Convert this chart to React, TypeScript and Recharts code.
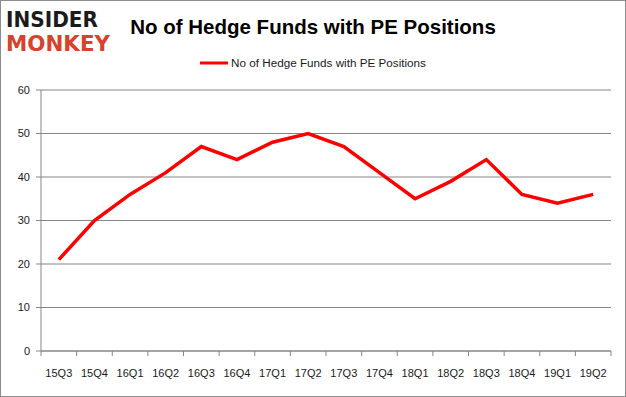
import React from 'react';
import { LineChart, Line, XAxis, YAxis, CartesianGrid } from 'recharts';

const quarters = ['15Q3', '15Q4', '16Q1', '16Q2', '16Q3', '16Q4', '17Q1', '17Q2', '17Q3', '17Q4', '18Q1', '18Q2', '18Q3', '18Q4', '19Q1', '19Q2'];
const hedgeFundCounts = [21, 30, 36, 41, 47, 44, 48, 50, 47, 41, 35, 39, 44, 36, 34, 36];
const yTicks = [0, 10, 20, 30, 40, 50, 60];
const seriesName = 'No of Hedge Funds with PE Positions';
const titleText = 'No of Hedge Funds with PE Positions';

const data = quarters.map((q, i) => ({ quarter: q, value: hedgeFundCounts[i] }));

const W = 626;
const H = 397;
const PLOT_LEFT = 41;
const PLOT_RIGHT = 611;
const PLOT_TOP = 90;
const PLOT_BOTTOM = 351;
const Y_AXIS_W = 30;
const X_AXIS_H = 30;
const BAND = (PLOT_RIGHT - PLOT_LEFT) / quarters.length;
const GRID = '#868686';
const FONT = '"Liberation Sans", Arial, sans-serif';

const XTick = (props: any) => {
  const { x, payload, index } = props;
  const isLast = index === quarters.length - 1;
  return (
    <g>
      <line x1={x - BAND / 2} x2={x - BAND / 2} y1={PLOT_BOTTOM} y2={PLOT_BOTTOM + 5} stroke={GRID} />
      {isLast && (
        <line x1={x + BAND / 2} x2={x + BAND / 2} y1={PLOT_BOTTOM} y2={PLOT_BOTTOM + 5} stroke={GRID} />
      )}
      <text x={x} y={PLOT_BOTTOM + 26} textAnchor="middle" fontSize={11} fontFamily={FONT} fill="#1a1a1a">
        {payload.value}
      </text>
    </g>
  );
};

export default function App() {
  return (
    <div style={{ position: 'absolute', left: 0, top: 0, width: W, height: H, background: '#fff', overflow: 'hidden' }}>
      <div style={{ position: 'absolute', left: 0, top: 0, width: W, height: H, boxSizing: 'border-box', border: '1px solid #8c8c8c', pointerEvents: 'none', zIndex: 3 }} />
      <svg width={120} height={70} style={{ position: 'absolute', left: 0, top: 0, zIndex: 2 }}>
        <text x={6} y={27} fontFamily='"DejaVu Sans", sans-serif' fontWeight={900} fontSize={20.5} fill="#1b1b1b" textLength={92} lengthAdjust="spacingAndGlyphs">INSIDER</text>
        <text x={6} y={51} fontFamily='"DejaVu Sans", sans-serif' fontWeight={900} fontSize={20.5} fill="#d8412c" textLength={104} lengthAdjust="spacingAndGlyphs">MONKEY</text>
      </svg>
      <div style={{ position: 'absolute', left: 0, top: 15, width: W, textAlign: 'center', fontFamily: FONT, fontWeight: 'bold', fontSize: 20.5, lineHeight: '24px', color: '#000', zIndex: 2 }}>
        {titleText}
      </div>
      <div style={{ position: 'absolute', left: 0, top: 56, width: W, display: 'flex', justifyContent: 'center', alignItems: 'center', fontFamily: FONT, fontSize: 11.7, lineHeight: '14px', color: '#1a1a1a', zIndex: 2 }}>
        <svg width={28} height={10} style={{ marginRight: 3 }}>
          <line x1={0} x2={28} y1={5} y2={5} stroke="#ff0000" strokeWidth={3} />
        </svg>
        <span>{seriesName}</span>
      </div>
      <LineChart
        width={W}
        height={H}
        data={data}
        margin={{ top: PLOT_TOP, right: W - PLOT_RIGHT, bottom: H - PLOT_BOTTOM - X_AXIS_H, left: PLOT_LEFT - Y_AXIS_W }}
      >
        <CartesianGrid horizontal vertical={false} stroke={GRID} strokeDasharray="" />
        <XAxis
          dataKey="quarter"
          height={X_AXIS_H}
          padding={{ left: BAND / 2, right: BAND / 2 }}
          axisLine={{ stroke: GRID }}
          tickLine={false}
          tick={<XTick />}
          interval={0}
        />
        <YAxis
          width={Y_AXIS_W}
          domain={[0, 60]}
          ticks={yTicks}
          axisLine={{ stroke: GRID }}
          tickLine={{ stroke: GRID }}
          tickSize={5}
          tickMargin={6}
          tick={{ fontSize: 11, fontFamily: FONT, fill: '#1a1a1a' }}
        />
        <Line
          type="linear"
          dataKey="value"
          name={seriesName}
          stroke="#ff0000"
          strokeWidth={3.5}
          dot={false}
          activeDot={false}
          isAnimationActive={false}
        />
      </LineChart>
    </div>
  );
}
